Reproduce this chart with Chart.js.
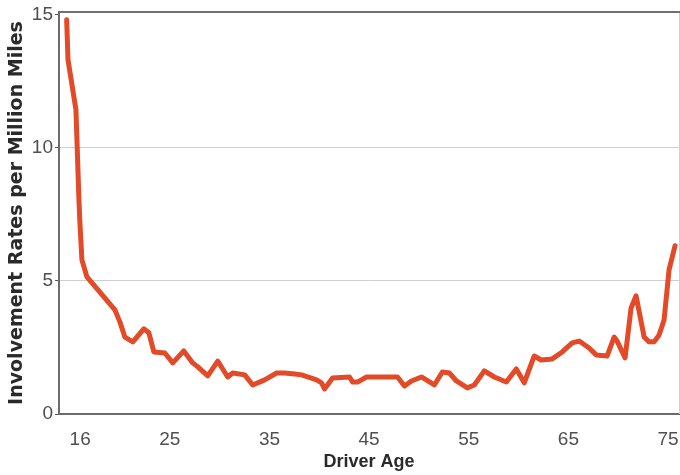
<!DOCTYPE html>
<html>
<head>
<meta charset="utf-8">
<script src="https://cdn.jsdelivr.net/npm/chart.js@4"></script>
<style>
  html, body { margin: 0; padding: 0; background: #fff; }
  #wrap { width: 680px; height: 475px; }
</style>
</head>
<body>
<div id="wrap"><canvas id="chart"></canvas></div>
<script>
// driver age (x) and crash involvement rate per million miles (y)
const ages = [14.65, 14.78, 15.58, 15.88, 15.98, 16.18, 16.68, 19.49, 19.99, 20.49,
  21.29, 22.39, 22.9, 23.4, 24.5, 25.3, 26.4, 27.3, 27.81, 28.81,
  29.81, 30.81, 31.31, 32.52, 33.32, 34.52, 35.72, 36.52, 37.53, 38.23,
  39.73, 40.23, 40.53, 41.33, 43.04, 43.34, 43.84, 44.74, 47.85, 48.55,
  49.25, 50.25, 51.55, 52.35, 53.06, 53.76, 54.86, 55.56, 56.56, 57.57,
  58.77, 59.77, 60.57, 61.57, 62.27, 63.38, 64.38, 65.38, 66.08, 67.08,
  67.79, 68.89, 69.59, 69.89, 70.69, 71.29, 71.79, 72.6, 73.1, 73.6,
  74.1, 74.6, 75.1, 75.7];
const rates = [14.81, 13.31, 11.43, 8.05, 7.18, 5.79, 5.15, 3.91, 3.46, 2.89,
  2.71, 3.2, 3.05, 2.33, 2.29, 1.92, 2.37, 1.92, 1.77, 1.43,
  1.99, 1.39, 1.54, 1.47, 1.09, 1.28, 1.54, 1.54, 1.5, 1.47,
  1.28, 1.17, 0.94, 1.35, 1.39, 1.2, 1.2, 1.39, 1.39, 1.05,
  1.24, 1.39, 1.09, 1.58, 1.54, 1.24, 0.98, 1.09, 1.62, 1.39,
  1.2, 1.69, 1.17, 2.18, 2.03, 2.07, 2.33, 2.67, 2.74, 2.48,
  2.22, 2.18, 2.89, 2.74, 2.11, 3.98, 4.44, 2.89, 2.71, 2.71,
  2.97, 3.53, 5.41, 6.32];
const xTicks = [16, 25, 35, 45, 55, 65, 75];
const yTicks = [0, 5, 10, 15];

const points = ages.map((a, i) => ({ x: a, y: rates[i] }));

// top border and thin right edge of the plot box
const frame = {
  id: 'frame',
  afterDraw(chart) {
    const { ctx, chartArea: a } = chart;
    ctx.save();
    ctx.strokeStyle = '#d0d0d0';
    ctx.lineWidth = 1;
    ctx.beginPath();
    ctx.moveTo(a.right + 0.5, a.top);
    ctx.lineTo(a.right + 0.5, a.bottom);
    ctx.stroke();
    ctx.strokeStyle = '#707070';
    ctx.lineWidth = 2;
    ctx.beginPath();
    ctx.moveTo(a.left, a.top);
    ctx.lineTo(a.right + 1, a.top);
    ctx.stroke();
    ctx.restore();
  }
};

new Chart(document.getElementById('chart'), {
  type: 'line',
  data: {
    datasets: [{
      data: points,
      borderColor: '#e24a28',
      borderWidth: 5,
      pointRadius: 0,
      tension: 0,
      borderJoinStyle: 'round',
      borderCapStyle: 'round'
    }]
  },
  options: {
    responsive: true,
    maintainAspectRatio: false,
    animation: false,
    layout: { padding: { top: 12, right: 1, left: 0, bottom: 0 } },
    plugins: { legend: { display: false }, tooltip: { enabled: false } },
    scales: {
      x: {
        type: 'linear',
        min: 13.88,
        max: 76.1,
        afterBuildTicks: (s) => { s.ticks = xTicks.map(v => ({ value: v })); },
        afterFit: (s) => { s.height = 61; s.paddingLeft = 0; s.paddingRight = 0; },
        grid: { display: false, drawTicks: false },
        border: { color: '#6b6b6b', width: 2 },
        ticks: {
          padding: 14,
          color: '#4f4f4f',
          font: { family: 'Liberation Sans, Arial, sans-serif', size: 19 },
          maxRotation: 0,
          autoSkip: false
        },
        title: {
          display: true,
          text: 'Driver Age',
          color: '#2a2a2a',
          padding: { top: 0, bottom: 2 },
          font: { family: 'Liberation Sans, Arial, sans-serif', size: 18, weight: 'bold' }
        }
      },
      y: {
        min: 0,
        max: 15.1,
        afterBuildTicks: (s) => { s.ticks = yTicks.map(v => ({ value: v })); },
        afterFit: (s) => { s.width = 59; s.paddingTop = 0; s.paddingBottom = 0; },
        grid: {
          color: (c) => (c.tick && (c.tick.value === 5 || c.tick.value === 10)) ? '#cfcfcf' : 'rgba(0,0,0,0)',
          tickColor: '#555',
          tickLength: 4,
          lineWidth: 1
        },
        border: { color: '#6b6b6b', width: 2 },
        ticks: {
          padding: 2,
          color: '#4f4f4f',
          font: { family: 'Liberation Sans, Arial, sans-serif', size: 19 }
        },
        title: {
          display: true,
          text: 'Involvement Rates per Million Miles',
          color: '#2a2a2a',
          padding: { top: 6, bottom: 0 },
          font: { family: 'DejaVu Sans, sans-serif', size: 19, weight: 'bold' }
        }
      }
    }
  },
  plugins: [frame]
});
</script>
</body>
</html>
